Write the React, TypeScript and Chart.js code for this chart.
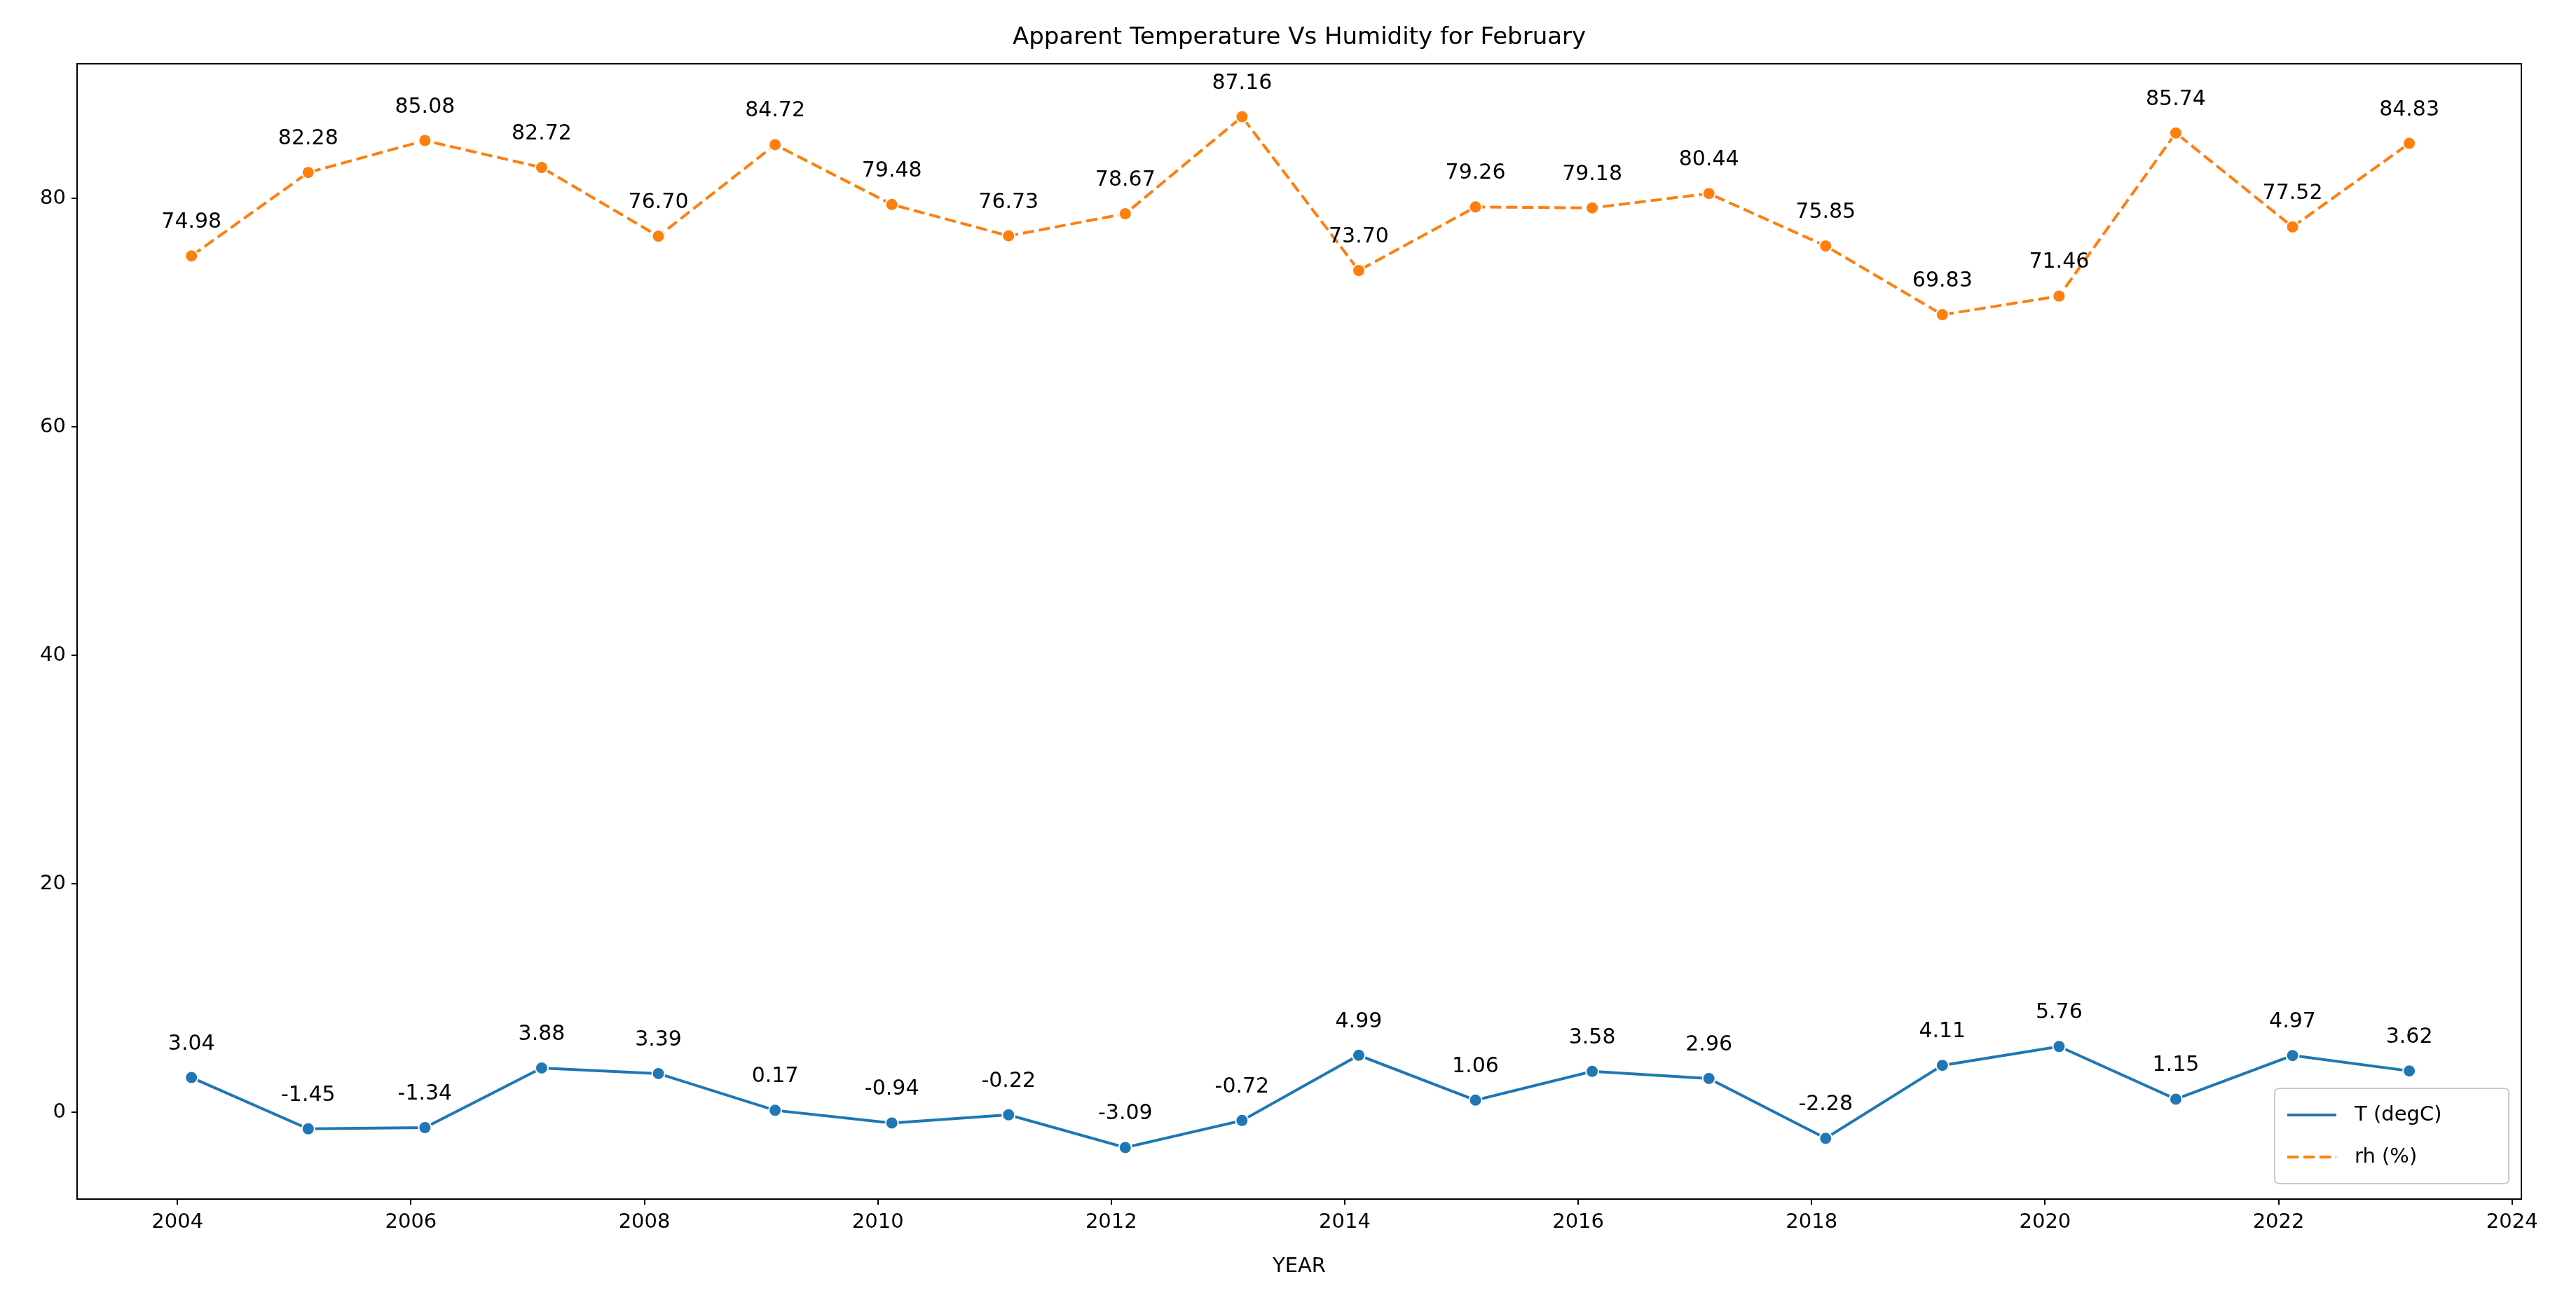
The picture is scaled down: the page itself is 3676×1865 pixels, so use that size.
import React, { useEffect, useRef } from "react";
import { Chart, registerables } from "chart.js";
Chart.register(...registerables);

const years = [2004,2005,2006,2007,2008,2009,2010,2011,2012,2013,2014,2015,2016,2017,2018,2019,2020,2021,2022,2023];
const tempValues = [3.04,-1.45,-1.34,3.88,3.39,0.17,-0.94,-0.22,-3.09,-0.72,4.99,1.06,3.58,2.96,-2.28,4.11,5.76,1.15,4.97,3.62];
const rhValues = [74.98,82.28,85.08,82.72,76.70,84.72,79.48,76.73,78.67,87.16,73.70,79.26,79.18,80.44,75.85,69.83,71.46,85.74,77.52,84.83];
const xTicks = [2004,2006,2008,2010,2012,2014,2016,2018,2020,2022,2024];
const yTicks = [0,20,40,60,80];
const dateOffset = 0.12;

const FONT = "'DejaVu Sans', sans-serif";

export default function App() {
  const ref = useRef<HTMLCanvasElement>(null);
  useEffect(() => {
    document.body.style.margin = "0";
    const ctx = ref.current!;
    const plugin = {
      id: "extras",
      afterDatasetsDraw(chart: any) {
        const c = chart.ctx;
        const { left, right, top, bottom } = chart.chartArea;
        const xs = chart.scales.x, ys = chart.scales.y;
        c.save();
        c.strokeStyle = "#000"; c.lineWidth = 2;
        c.strokeRect(left, top, right - left, bottom - top);
        c.fillStyle = "#000";
        c.font = `34px ${FONT}`;
        c.textAlign = "center"; c.textBaseline = "bottom";
        c.fillText("Apparent Temperature Vs Humidity for February", (left + right) / 2, top - 20);
        c.font = `29px ${FONT}`;
        c.textBaseline = "top";
        c.fillText("YEAR", (left + right) / 2, bottom + 82);
        c.font = `30px ${FONT}`;
        c.textBaseline = "alphabetic";
        [tempValues, rhValues].forEach((arr) => {
          arr.forEach((v, i) => {
            const px = xs.getPixelForValue(years[i] + dateOffset);
            const py = ys.getPixelForValue(v);
            c.fillText(v.toFixed(2), px, py - 40);
          });
        });
        // legend
        const lw = 334, lh = 136;
        const lx = right - 18 - lw, ly = bottom - 22 - lh;
        c.fillStyle = "rgba(255,255,255,0.8)";
        c.strokeStyle = "#cccccc"; c.lineWidth = 2;
        c.beginPath(); (c as any).roundRect(lx, ly, lw, lh, 6); c.fill(); c.stroke();
        const items = [
          { t: "T (degC)", col: "#1f77b4", dash: [] as number[] },
          { t: "rh (%)", col: "#ff7f0e", dash: [16, 7] },
        ];
        c.font = `29px ${FONT}`;
        c.textAlign = "left"; c.textBaseline = "middle";
        items.forEach((it, k) => {
          const yy = ly + 38 + k * 60;
          c.strokeStyle = it.col; c.lineWidth = 4; c.setLineDash(it.dash);
          c.beginPath(); c.moveTo(lx + 18, yy); c.lineTo(lx + 88, yy); c.stroke();
          c.setLineDash([]);
          c.fillStyle = "#000";
          c.fillText(it.t, lx + 114, yy);
        });
        c.restore();
      },
    };
    const chart = new Chart(ctx, {
      type: "line",
      data: {
        datasets: [
          {
            label: "T (degC)",
            data: years.map((y, i) => ({ x: y + dateOffset, y: tempValues[i] })),
            borderColor: "#1f77b4", backgroundColor: "#1f77b4",
            borderWidth: 4, pointRadius: 9, pointBorderColor: "#fff", pointBorderWidth: 2,
            tension: 0,
          },
          {
            label: "rh (%)",
            data: years.map((y, i) => ({ x: y + dateOffset, y: rhValues[i] })),
            borderColor: "#ff7f0e", backgroundColor: "#ff7f0e",
            borderWidth: 4, borderDash: [16, 7], pointRadius: 9, pointBorderColor: "#fff", pointBorderWidth: 2,
            tension: 0,
          },
        ],
      },
      options: {
        animation: false, responsive: false, devicePixelRatio: 1,
        layout: { padding: { left: 0, top: 91, right: 78, bottom: 0 } },
        plugins: { legend: { display: false }, tooltip: { enabled: false }, title: { display: false } },
        scales: {
          x: {
            type: "linear", min: 2003.14, max: 2024.08,
            afterBuildTicks: (s: any) => { s.ticks = xTicks.map((v) => ({ value: v })); },
            afterFit: (s: any) => { s.height = 154; },
            ticks: { color: "#000", font: { family: FONT, size: 29 }, padding: 8, callback: (v: any) => String(v), maxRotation: 0, autoSkip: false },
            grid: { drawOnChartArea: false, drawTicks: true, tickLength: 8, color: "#000", lineWidth: 2 },
            border: { display: true, color: "#000", width: 2 },
          },
          y: {
            min: -7.6, max: 91.8,
            afterBuildTicks: (s: any) => { s.ticks = yTicks.map((v) => ({ value: v })); },
            afterFit: (s: any) => { s.width = 110; },
            ticks: { color: "#000", font: { family: FONT, size: 29 }, padding: 8 },
            grid: { drawOnChartArea: false, drawTicks: true, tickLength: 8, color: "#000", lineWidth: 2 },
            border: { display: true, color: "#000", width: 2 },
          },
        },
      },
      plugins: [plugin],
    } as any);
    return () => chart.destroy();
  }, []);
  return <canvas ref={ref} width={3676} height={1865} style={{ width: 3676, height: 1865, display: "block" }} />;
}
